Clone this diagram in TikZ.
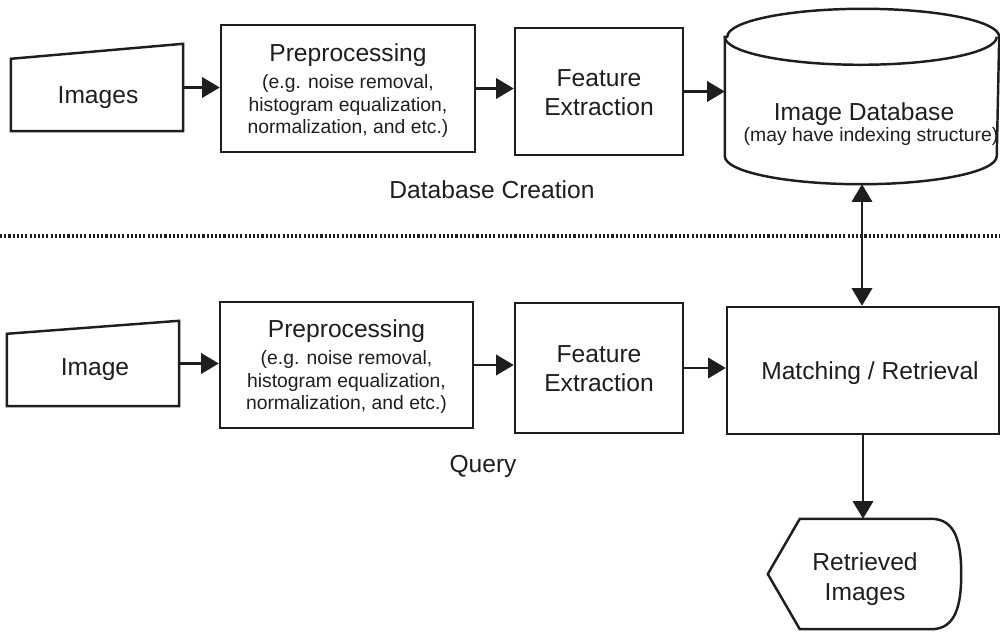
\documentclass[tikz,border=0pt]{standalone}
\usepackage{fontspec}
\setmainfont{Liberation Sans}
\usetikzlibrary{arrows.meta}
\definecolor{ink}{HTML}{1E1E1E}
\begin{document}
\begin{tikzpicture}[x=0.02cm,y=0.02cm,
  line width=1.4pt, draw=ink, text=ink,
  box/.style={draw=ink, line width=1.4pt, inner sep=0pt},
  slot/.style={draw=none, inner sep=0pt},
  big/.style={font=\fontsize{14}{16.5}\selectfont, align=center, inner sep=0pt},
  small/.style={font=\fontsize{11}{13}\selectfont, align=center, inner sep=0pt},
  arr/.style={-{Triangle[length=10pt,width=11.5pt]}, line width=1.4pt},
  darr/.style={{Triangle[length=10pt,width=11.5pt]}-{Triangle[length=10pt,width=11.5pt]}, line width=1.4pt},
  sep/.style={line width=2pt, dash pattern=on 1.2pt off 1.2pt}
]
\useasboundingbox (0,0) rectangle (1000,-632);

% ---------- Database creation row ----------
\node[slot, minimum width=3.4cm, minimum height=1.7cm] (img1) at (97,-87.5) {};
\draw ([yshift=-0.3cm]img1.north west) -- (img1.north east) -- (img1.south east) -- (img1.south west) -- cycle;
\node[big] (img1t) at (98,-98) {Images};

\node[box, minimum width=5.08cm, minimum height=2.54cm] (pre1) at (348,-88.5) {};
\node[big, anchor=base] (pre1t) at (348,-61) {Preprocessing};
\node[small] (pre1s) at (348,-106) {(e.g. noise removal,\\histogram equalization,\\normalization, and etc.)};

\node[box, minimum width=3.36cm, minimum height=2.54cm] (fe1) at (599,-91.5) {};
\node[big] (fe1t) at (599,-93) {Feature\\Extraction};

\node[slot, minimum width=5.44cm, minimum height=3.46cm] (db) at (862,-96.5) {};
\draw ([yshift=-0.56cm]db.north west) -- ([yshift=0.56cm]db.south west)
  arc[start angle=180, end angle=360, x radius=2.72cm, y radius=0.56cm]
  -- ([yshift=-0.56cm]db.north east)
  arc[start angle=0, end angle=180, x radius=2.72cm, y radius=0.56cm] -- cycle;
\draw ([yshift=-0.56cm]db.north west) arc[start angle=180, end angle=360, x radius=2.72cm, y radius=0.56cm];
\node[big] (dbt1) at (864,-114) {Image Database};
\node[small] (dbt2) at (871,-137) {(may have indexing structure)};

\draw[arr] (img1.east) -- (img1.east -| pre1.west);
\draw[arr] (pre1.east) -- (pre1.east -| fe1.west);
\draw[arr] (fe1.east) -- (fe1.east -| db.west);

\node[big] (dbc) at (492,-190) {Database Creation};

% ---------- separator ----------
\coordinate (sepL) at (0,-236);
\coordinate (sepR) at (1000,-236);
\draw[sep] (sepL) -- (sepR);

% ---------- Query row ----------
\node[slot, minimum width=3.4cm, minimum height=1.66cm] (img2) at (93,-363.5) {};
\draw ([yshift=-0.26cm]img2.north west) -- (img2.north east) -- (img2.south east) -- (img2.south west) -- cycle;
\node[big] (img2t) at (95,-370) {Image};

\node[box, minimum width=5.06cm, minimum height=2.52cm] (pre2) at (346.5,-365) {};
\node[big, anchor=base] (pre2t) at (346.5,-337) {Preprocessing};
\node[small] (pre2s) at (346.5,-382) {(e.g. noise removal,\\histogram equalization,\\normalization, and etc.)};

\node[box, minimum width=3.36cm, minimum height=2.6cm] (fe2) at (599,-368) {};
\node[big] (fe2t) at (599,-369) {Feature\\Extraction};

\node[box, minimum width=5.44cm, minimum height=2.54cm] (match) at (863,-370.5) {};
\node[big] (matcht) at (870,-373) {Matching / Retrieval};

\node[slot, minimum width=3.82cm, minimum height=2.16cm] (ret) at (864.5,-574) {};
\draw (ret.west) -- ([xshift=0.64cm]ret.north west) -- ([xshift=-0.6cm]ret.north east)
  .. controls ([xshift=-0.1cm]ret.north east) and ([yshift=0.6cm]ret.east) .. (ret.east)
  .. controls ([yshift=-0.6cm]ret.east) and ([xshift=-0.1cm]ret.south east) .. ([xshift=-0.6cm]ret.south east)
  -- ([xshift=0.64cm]ret.south west) -- cycle;
\node[big, font=\fontsize{14}{17}\selectfont] (rett) at (865,-579) {Retrieved\\Images};

\draw[arr] (img2.east) -- (img2.east -| pre2.west);
\draw[arr] (pre2.east) -- (pre2.east -| fe2.west);
\draw[arr] (fe2.east) -- (fe2.east -| match.west);
\draw[darr] (db.south) -- (db.south |- match.north);
\draw[arr] (match.south) -- (match.south |- ret.north);

\node[big] (qry) at (483,-466) {Query};
\end{tikzpicture}
\end{document}
